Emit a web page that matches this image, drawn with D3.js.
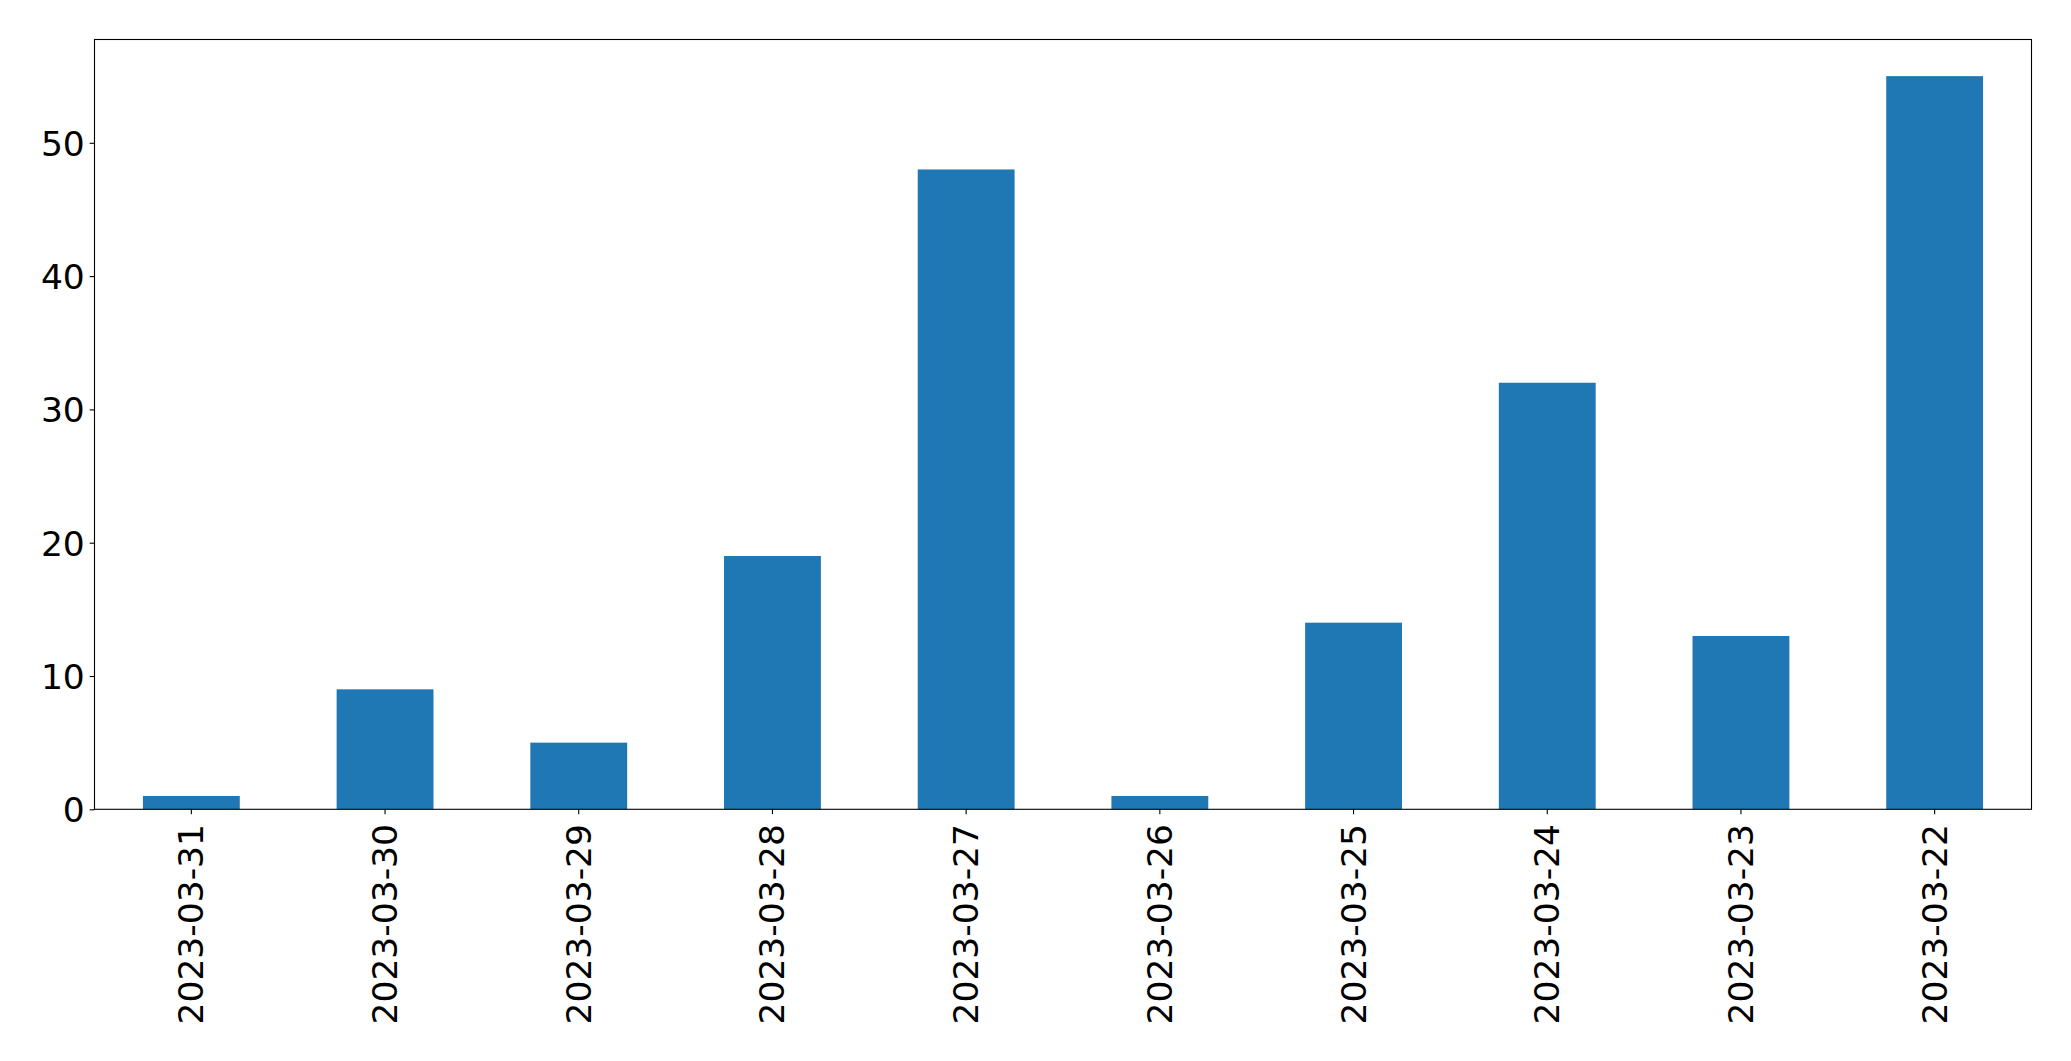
<!DOCTYPE html>
<html>
<head>
<meta charset="utf-8">
<script src="https://cdn.jsdelivr.net/npm/d3@7"></script>
<style>
  html, body { margin: 0; padding: 0; background: #ffffff; }
  svg { display: block; }
  text { font-family: "DejaVu Sans", sans-serif; fill: #000; }
</style>
</head>
<body>
<svg id="chart" width="2071" height="1061"></svg>
<script>
const categories = ["2023-03-31", "2023-03-30", "2023-03-29", "2023-03-28", "2023-03-27",
                    "2023-03-26", "2023-03-25", "2023-03-24", "2023-03-23", "2023-03-22"];
const values = [1, 9, 5, 19, 48, 1, 14, 32, 13, 55];
const yTicks = [0, 10, 20, 30, 40, 50];

const margin = { left: 94.5, top: 39.5, right: 2071 - 2031.5, bottom: 1061 - 809.3 };
const W = 2071, H = 1061;
const iw = W - margin.left - margin.right;
const ih = H - margin.top - margin.bottom;

const svg = d3.select("#chart");
const g = svg.append("g").attr("transform", `translate(${margin.left},${margin.top})`);

const x = d3.scaleBand().domain(categories).range([0, iw]).paddingInner(0.5).paddingOuter(0.25);
const y = d3.scaleLinear().domain([0, d3.max(values) * 1.05]).range([ih, 0]);

g.selectAll("rect.bar").data(values).enter().append("rect")
  .attr("class", "bar")
  .attr("x", (d, i) => x(categories[i]))
  .attr("width", x.bandwidth())
  .attr("y", d => y(d))
  .attr("height", d => ih - y(d))
  .attr("fill", "#1f77b4");

const fontSize = 34.5;
const tickLen = 4.86;
const pad = 4.86;

// y axis
const yAxis = d3.axisLeft(y).tickValues(yTicks).tickSize(tickLen).tickPadding(pad).tickFormat(d3.format("d"));
const ya = g.append("g").call(yAxis);
ya.select(".domain").remove();
ya.selectAll("line").attr("stroke", "#000").attr("stroke-width", 1.1);
ya.selectAll("text").attr("font-size", fontSize).attr("font-family", "DejaVu Sans").attr("dy", "0.36em");

// x axis
const xAxis = d3.axisBottom(x).tickSize(tickLen).tickPadding(pad);
const xa = g.append("g").attr("transform", `translate(0,${ih})`).call(xAxis);
xa.select(".domain").remove();
xa.selectAll("line").attr("stroke", "#000").attr("stroke-width", 1.1);
xa.selectAll("text")
  .attr("font-size", fontSize)
  .attr("font-family", "DejaVu Sans")
  .attr("text-anchor", "end")
  .attr("dy", null)
  .attr("y", null)
  .attr("transform", `translate(0,${tickLen + pad + 5}) rotate(-90)`)
  .attr("dominant-baseline", "central");

// frame
g.append("rect").attr("x", 0).attr("y", 0).attr("width", iw).attr("height", ih)
  .attr("fill", "none").attr("stroke", "#000").attr("stroke-width", 1.1);
</script>
</body>
</html>
